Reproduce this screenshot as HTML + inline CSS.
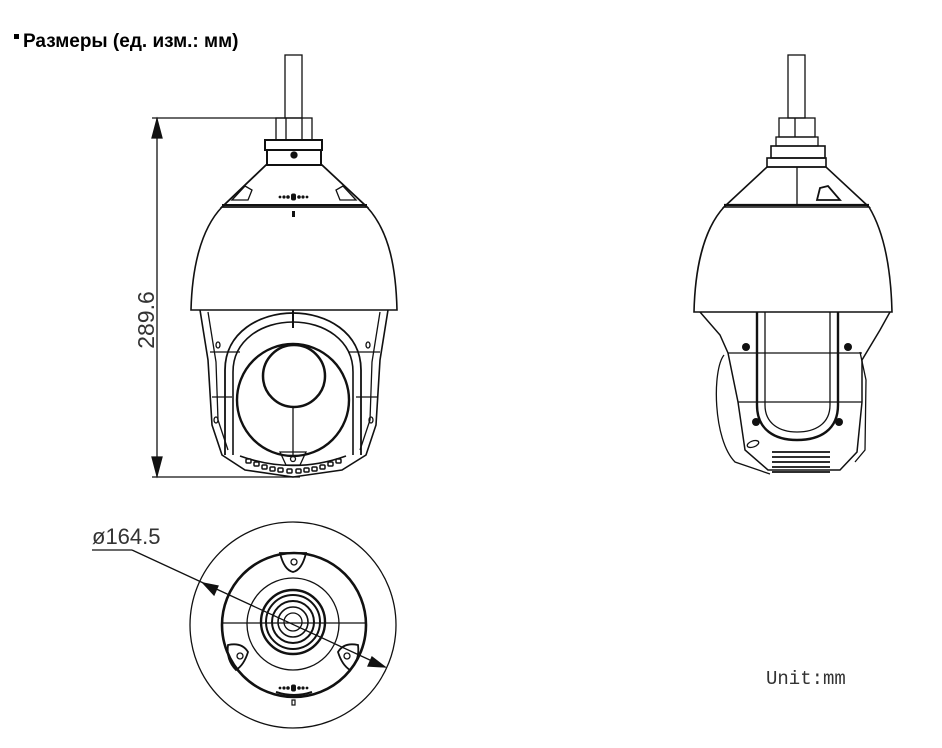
<!DOCTYPE html>
<html><head><meta charset="utf-8"><style>
body{margin:0;background:#fff;width:942px;height:743px;overflow:hidden}
</style></head><body>
<svg width="942" height="743" viewBox="0 0 942 743" xmlns="http://www.w3.org/2000/svg" fill="none" stroke="#111" stroke-width="1.3">
<rect x="14" y="34" width="5" height="5" fill="#000" stroke="none"/>
<text x="23" y="47" font-family="Liberation Sans, sans-serif" font-weight="bold" font-size="19" fill="#000" stroke="none">Размеры (ед. изм.: мм)</text>

<line x1="152" y1="118" x2="285" y2="118"/>
<line x1="152" y1="477" x2="300" y2="477"/>
<line x1="157" y1="118" x2="157" y2="477"/>
<polygon points="157,119 152,138 162,138" fill="#111"/>
<polygon points="157,476 152,457 162,457" fill="#111"/>
<text transform="translate(154,320) rotate(-90)" text-anchor="middle" font-family="Liberation Sans, sans-serif" font-size="23" fill="#333" stroke="none">289.6</text>

<!-- FRONT VIEW -->
<rect x="285" y="55" width="17" height="63"/>
<rect x="276" y="118" width="36" height="22"/>
<line x1="286" y1="118" x2="286" y2="140"/><line x1="302" y1="118" x2="302" y2="140"/>
<rect x="265" y="140" width="57" height="10" stroke-width="2"/>
<rect x="267" y="150" width="54" height="15" stroke-width="2"/>
<circle cx="294" cy="155" r="3" fill="#111"/>
<path d="M266 165 L322 165 L367 207 L222 207 Z" stroke-width="1.8"/>
<line x1="222" y1="205" x2="367" y2="205" stroke-width="2"/>
<path d="M232 200 L245 186 L252 190 L248 200 Z"/>
<path d="M356 200 L343 186 L336 190 L340 200 Z"/>
<g fill="#111" stroke="none"><circle cx="280" cy="197" r="1.4"/><circle cx="284" cy="197" r="1.6"/><circle cx="288" cy="197" r="1.8"/><rect x="291" y="193.5" width="5" height="7" rx="2"/><circle cx="299" cy="197" r="1.8"/><circle cx="303" cy="197" r="1.6"/><circle cx="307" cy="197" r="1.4"/></g>
<rect x="292" y="211" width="3" height="6" fill="#111" stroke="none"/>
<path d="M222 207 C200 230 192 270 191 310 L397 310 C396 270 390 232 367 207" stroke-width="1.6"/>
<path d="M200 310 L208 360 L212 425 L222 455 L245 470 L293 477 L342 470 L366 455 L376 425 L380 360 L388 310" stroke-width="1.6"/>
<path d="M208 312 L216 362 L218 420 L228 450"/>
<path d="M380 312 L372 362 L370 420 L360 450"/>
<line x1="210" y1="352" x2="240" y2="352"/><line x1="348" y1="352" x2="380" y2="352"/>
<line x1="212" y1="397" x2="232" y2="397"/><line x1="356" y1="397" x2="378" y2="397"/>
<ellipse cx="218" cy="345" rx="2" ry="3"/><ellipse cx="368" cy="345" rx="2" ry="3"/>
<ellipse cx="216" cy="420" rx="2" ry="3"/><ellipse cx="371" cy="420" rx="2" ry="3"/>
<line x1="293" y1="310" x2="293" y2="328" stroke-width="2"/>
<path d="M225 455 L225 370 C225 332 260 313 293 313 C326 313 361 332 361 370 L361 455" stroke-width="1.8"/>
<path d="M233 455 L233 372 C233 340 262 322 293 322 C324 322 353 340 353 372 L353 455" stroke-width="1.6"/>
<circle cx="293" cy="400" r="56" stroke-width="2.4"/>
<circle cx="294" cy="376" r="31" stroke-width="2.5"/>
<line x1="293" y1="407" x2="293" y2="455"/>
<path d="M240 456 Q293 475 346 456" stroke-width="1.6"/>
<path d="M280 452 L306 452 L300 465 L286 465 Z"/><circle cx="293" cy="459" r="2.5"/>
<g fill="#fff" stroke-width="1.5">
<rect x="246" y="459" width="5" height="4" rx="1"/><rect x="254" y="462" width="5" height="4" rx="1"/><rect x="262" y="465" width="5" height="4" rx="1"/><rect x="270" y="467" width="5" height="4" rx="1"/><rect x="278" y="468" width="5" height="4" rx="1"/><rect x="287" y="469" width="5" height="4" rx="1"/><rect x="296" y="469" width="5" height="4" rx="1"/><rect x="304" y="468" width="5" height="4" rx="1"/><rect x="312" y="467" width="5" height="4" rx="1"/><rect x="320" y="465" width="5" height="4" rx="1"/><rect x="328" y="462" width="5" height="4" rx="1"/><rect x="336" y="459" width="5" height="4" rx="1"/>
</g>

<!-- SIDE VIEW -->
<rect x="788" y="55" width="17" height="63"/>
<rect x="779" y="118" width="36" height="19"/>
<line x1="795" y1="118" x2="795" y2="137"/>
<rect x="776" y="137" width="42" height="9"/>
<rect x="771" y="146" width="54" height="12" stroke-width="1.6"/>
<rect x="767" y="158" width="59" height="9" stroke-width="1.6"/>
<path d="M767 167 L826 167 L869 207 L724 207 Z" stroke-width="1.6"/>
<line x1="724" y1="205" x2="869" y2="205" stroke-width="2.2"/>
<line x1="797" y1="167" x2="797" y2="205"/>
<path d="M817 200 L820 188 L828 186 L840 200 Z" stroke-width="1.8"/>
<path d="M724 207 C703 230 695 270 694 312 L892 312 C891 270 884 232 869 207" stroke-width="1.6"/>
<path d="M700 312 L720 335 L728 353 L738 402 L745 450 L768 470 L840 470 L857 452 L862 402 L862 360 L880 330 L890 312" stroke-width="1.5"/>
<path d="M724 355 C712 370 713 440 735 462 L770 474"/>
<path d="M860 352 L866 380 L865 450 L855 462"/>
<line x1="728" y1="353" x2="862" y2="353"/>
<line x1="738" y1="402" x2="862" y2="402"/>
<path d="M757 312 L757 405 C757 430 775 440 797 440 C820 440 838 430 838 405 L838 312" stroke-width="2.4"/>
<path d="M765 312 L765 405 C765 424 780 432 797 432 C815 432 830 424 830 405 L830 312" stroke-width="1.3"/>
<g fill="#111" stroke="none"><circle cx="746" cy="347" r="4"/><circle cx="848" cy="347" r="4"/><circle cx="756" cy="422" r="4"/><circle cx="839" cy="422" r="4"/></g>
<ellipse cx="753" cy="444" rx="6" ry="3" transform="rotate(-20 753 444)"/>
<g stroke-width="1.8"><line x1="772" y1="452" x2="830" y2="452"/><line x1="772" y1="457" x2="830" y2="457"/><line x1="772" y1="462" x2="830" y2="462"/><line x1="772" y1="467" x2="830" y2="467"/><line x1="772" y1="472" x2="830" y2="472"/></g>

<!-- BOTTOM VIEW -->
<circle cx="293" cy="625" r="103"/>
<circle cx="294" cy="625" r="72" stroke-width="2.6"/>
<circle cx="293" cy="624" r="46"/>
<line x1="222" y1="623" x2="366" y2="623"/>
<circle cx="293" cy="622" r="32" stroke-width="2.4"/>
<circle cx="293" cy="622" r="27" stroke-width="2"/>
<circle cx="293" cy="622" r="21" stroke-width="2"/>
<circle cx="293" cy="622" r="15" stroke-width="1.6"/>
<circle cx="293" cy="622" r="9"/>
<path d="M280 553 L306 553 Q302 570 293 572 Q284 570 280 553 Z" stroke-width="1.8"/><circle cx="294" cy="562" r="3"/>
<path d="M228 645 Q242 642 248 652 Q244 665 236 670 Q226 660 228 645 Z" stroke-width="1.8"/><circle cx="240" cy="656" r="3"/>
<path d="M358 645 Q344 642 338 652 Q342 665 350 670 Q360 660 358 645 Z" stroke-width="1.8"/><circle cx="347" cy="656" r="3"/>
<path d="M276 692 Q294 698 312 692" stroke-width="2"/>
<g fill="#111" stroke="none"><circle cx="280" cy="688" r="1.4"/><circle cx="284" cy="688" r="1.6"/><circle cx="288" cy="688" r="1.8"/><rect x="291" y="684.5" width="5" height="7" rx="2"/><circle cx="299" cy="688" r="1.8"/><circle cx="303" cy="688" r="1.6"/><circle cx="307" cy="688" r="1.4"/></g>
<rect x="292" y="700" width="3" height="5" stroke-width="1.2"/>
<text x="92" y="544" font-family="Liberation Sans, sans-serif" font-size="22" fill="#333" stroke="none">ø164.5</text>
<line x1="92" y1="550" x2="132" y2="550"/>
<line x1="132" y1="550" x2="385" y2="667"/>
<polygon points="203,583 218,586 214,595" fill="#111"/>
<polygon points="385,667 368,666 372,657" fill="#111"/>

<text x="766" y="684" font-family="Liberation Mono, monospace" font-size="19" fill="#333" stroke="none">Unit:mm</text>
</svg>
</body></html>
